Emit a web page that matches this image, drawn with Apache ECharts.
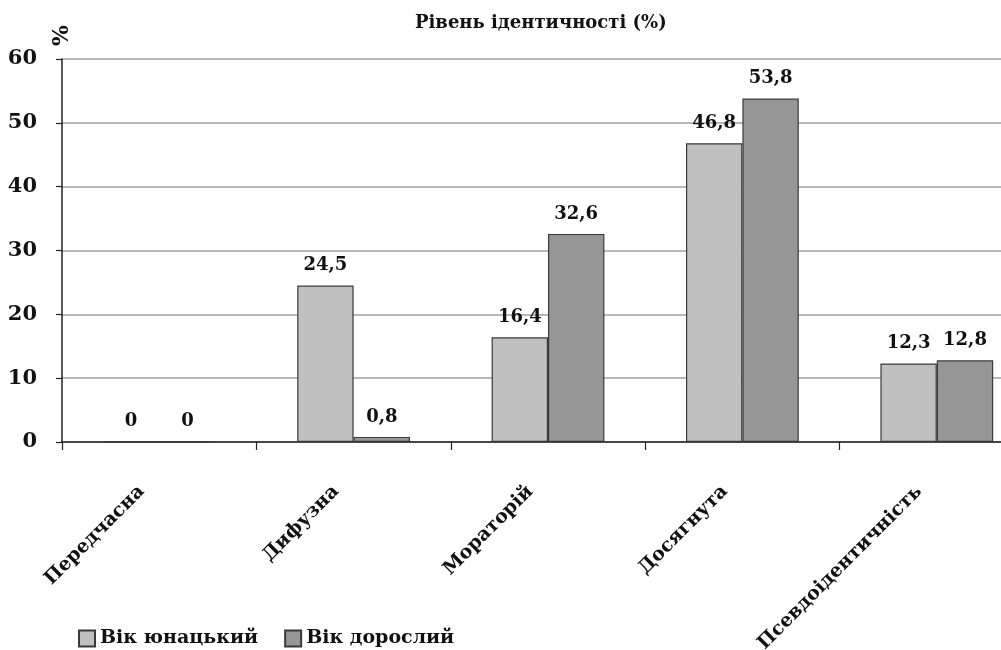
<!DOCTYPE html>
<html>
<head>
<meta charset="utf-8">
<script src="https://cdn.jsdelivr.net/npm/echarts@6/dist/echarts.min.js"></script>
<style>
  html, body { margin: 0; padding: 0; background: #fff; }
  #chart { width: 1001px; height: 650px; }
</style>
</head>
<body>
<div id="chart"></div>
<script>
const categories = ['Передчасна', 'Дифузна', 'Мораторій', 'Досягнута', 'Псевдоідентичність'];
const youthValues = [0, 24.5, 16.4, 46.8, 12.3];
const adultValues = [0, 0.8, 32.6, 53.8, 12.8];
const seriesNames = ['Вік юнацький', 'Вік дорослий'];
const yTicks = { min: 0, max: 60, interval: 10 };

const serif = '"DejaVu Serif", "Liberation Serif", serif';
const ink = '#111';
const commaLabel = p => String(p.value).replace('.', ',');

const barLabel = {
  show: true, position: 'top', distance: 11, formatter: commaLabel,
  fontFamily: serif, fontWeight: 'bold', fontSize: 18, color: ink
};

const chart = echarts.init(document.getElementById('chart'));
chart.setOption({
  animation: false,
  backgroundColor: '#fff',
  textStyle: { fontFamily: serif },
  title: {
    text: 'Рівень ідентичності (%)',
    left: 410,
    top: 9,
    textStyle: { fontFamily: serif, fontWeight: 'bold', fontSize: 18, color: ink }
  },
  legend: {
    left: 73,
    top: 624,
    itemWidth: 16,
    itemHeight: 16,
    itemGap: 26,
    icon: 'rect',
    textStyle: { fontFamily: serif, fontWeight: 'bold', fontSize: 19, color: ink },
    data: seriesNames
  },
  // the plot runs past the right edge of the canvas
  grid: { left: 62, top: 59, width: 972, bottom: 208, containLabel: false, outerBoundsMode: 'none' },
  xAxis: {
    type: 'category',
    data: categories,
    axisLine: { lineStyle: { color: '#222', width: 1.5 } },
    axisTick: { show: true, alignWithLabel: false, length: 8, lineStyle: { color: '#222', width: 1.2 } },
    axisLabel: {
      rotate: 45, interval: 0, margin: 29,
      padding: [0, 25, 0, 0],
      fontFamily: serif, fontWeight: 'bold', fontSize: 19, color: ink
    }
  },
  yAxis: {
    type: 'value',
    min: yTicks.min, max: yTicks.max, interval: yTicks.interval,
    name: '%',
    nameLocation: 'end',
    nameRotate: 90,
    nameGap: 13,
    nameTextStyle: { fontFamily: serif, fontWeight: 'bold', fontSize: 22, color: ink, align: 'left', verticalAlign: 'middle', padding: [0, 0, -44, 0] },
    axisLine: { show: true, lineStyle: { color: '#222', width: 1.5 } },
    axisTick: { show: true, length: 6, lineStyle: { color: '#222', width: 1.2 } },
    axisLabel: { fontFamily: serif, fontWeight: 'bold', fontSize: 21, color: ink, margin: 25 },
    splitLine: { lineStyle: { color: '#a0a0a0', width: 1.5 } }
  },
  series: [
    {
      name: seriesNames[0], type: 'bar', data: youthValues,
      barGap: '0%', barCategoryGap: '42%',
      itemStyle: { color: '#c0c0c0', borderColor: '#3a3a3a', borderWidth: 1.2 },
      label: barLabel
    },
    {
      name: seriesNames[1], type: 'bar', data: adultValues,
      itemStyle: { color: '#969696', borderColor: '#3a3a3a', borderWidth: 1.2 },
      label: barLabel
    }
  ]
});
</script>
</body>
</html>
